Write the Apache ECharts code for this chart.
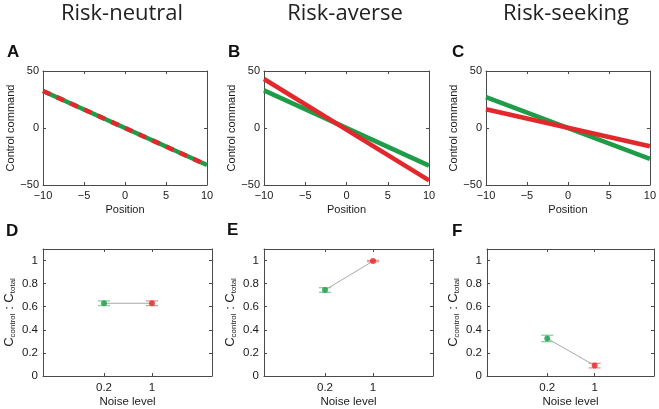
<!DOCTYPE html>
<html>
<head>
<meta charset="utf-8">
<script src="https://cdn.jsdelivr.net/npm/echarts@6/dist/echarts.min.js"></script>
<style>
html, body { margin: 0; padding: 0; background: #fff; }
#chart { width: 659px; height: 409px; }
</style>
</head>
<body>
<div id="chart"></div>
<script>
// column titles and panel letters
const panelTitles = ['Risk-neutral', 'Risk-averse', 'Risk-seeking'];
const panelLetters = ['A', 'B', 'C', 'D', 'E', 'F'];

// top row: control command vs position (end points of each line)
const positions = [-10, 10];
const greenCommand = [[32.5, -32.5], [33, -33], [27, -27]];
const redCommand = [[32.5, -32.5], [43, -46], [16.5, -16]];

// bottom row: Ccontrol : Ctotal at two noise levels (green = 0.2, red = 1)
const noiseLevels = ['0.2', '1'];
const ratioMean = [[0.63, 0.63], [0.745, 0.995], [0.325, 0.09]];
const ratioErr = [[0.02, 0.02], [0.02, 0.006], [0.028, 0.02]];
const ratioTicks = [0, 0.2, 0.4, 0.6, 0.8, 1];

const GREEN = '#1e9c48';
const RED = '#e2282c';
const GREEN_LIGHT = '#86d19e';
const RED_LIGHT = '#f09595';
const AXIS = '#4a4a4a';
const FONT = '"Liberation Sans", Arial, sans-serif';

const chart = echarts.init(document.getElementById('chart'));

const grids = [
    { left: 43, top: 71, width: 164, height: 114 },
    { left: 264, top: 71, width: 165, height: 114 },
    { left: 486, top: 71, width: 165, height: 114 },
    { left: 43, top: 249, width: 169, height: 128 },
    { left: 264, top: 249, width: 169, height: 128 },
    { left: 487, top: 249, width: 167, height: 127 }
];

const tickStyle = { inside: true, length: 3, lineStyle: { color: AXIS } };
const lineStyleAxis = { show: true, onZero: false, lineStyle: { color: AXIS, width: 1 } };
const labelStyle = { color: '#1a1a1a', fontSize: 11, fontFamily: FONT };

const xAxis = [];
const yAxis = [];
const series = [];

grids.forEach((g, i) => {
    const top = i < 3;
    if (top) {
        const xBase = { gridIndex: i, type: 'value', min: -10, max: 10, interval: 5,
            axisLine: lineStyleAxis, splitLine: { show: false }, axisTick: tickStyle };
        xAxis.push(Object.assign({}, xBase, {
            position: 'bottom', name: 'Position', nameLocation: 'middle', nameGap: 19,
            nameTextStyle: labelStyle,
            axisLabel: Object.assign({ margin: 5, formatter: v => String(v).replace('-', '\u2212') }, labelStyle)
        }));
        xAxis.push(Object.assign({}, xBase, { position: 'top', axisLabel: { show: false } }));
        const yBase = { gridIndex: i, type: 'value', min: -50, max: 50, interval: 50,
            axisLine: lineStyleAxis, splitLine: { show: false }, axisTick: tickStyle };
        yAxis.push(Object.assign({}, yBase, {
            position: 'left', name: 'Control command', nameLocation: 'middle', nameGap: 22,
            nameTextStyle: labelStyle,
            axisLabel: Object.assign({ margin: 4, formatter: v => String(v).replace('-', '\u2212') }, labelStyle)
        }));
        yAxis.push(Object.assign({}, yBase, { position: 'right', axisLabel: { show: false } }));
    } else {
        const xBase = { gridIndex: i, type: 'value', min: -1.27, max: 2.25,
            axisLine: lineStyleAxis, splitLine: { show: false },
            axisTick: Object.assign({ customValues: [0, 1] }, tickStyle) };
        xAxis.push(Object.assign({}, xBase, {
            position: 'bottom', name: 'Noise level', nameLocation: 'middle', nameGap: 20,
            nameTextStyle: { color: '#1a1a1a', fontSize: 11.5, fontFamily: FONT },
            axisLabel: Object.assign({ margin: 6, customValues: [0, 1], formatter: v => noiseLevels[Math.round(v)] },
                labelStyle, { fontSize: 11.5 })
        }));
        xAxis.push(Object.assign({}, xBase, { position: 'top', axisLabel: { show: false } }));
        const yBase = { gridIndex: i, type: 'value', min: 0, max: 1.1,
            axisLine: lineStyleAxis, splitLine: { show: false },
            axisTick: Object.assign({ customValues: ratioTicks }, tickStyle) };
        yAxis.push(Object.assign({}, yBase, {
            position: 'left', name: '{c|C}{s|control}{c| : C}{s|total}', nameLocation: 'middle', nameGap: 26,
            nameTextStyle: {
                color: '#1a1a1a', fontFamily: FONT,
                rich: {
                    c: { fontSize: 13, fontFamily: FONT, color: '#1a1a1a', lineHeight: 16 },
                    s: { fontSize: 8, fontFamily: FONT, color: '#1a1a1a', lineHeight: 16, verticalAlign: 'bottom', padding: [6, 0, 0, 0] }
                }
            },
            axisLabel: Object.assign({ margin: 5, customValues: ratioTicks }, labelStyle, { fontSize: 11.5 })
        }));
        yAxis.push(Object.assign({}, yBase, { position: 'right', axisLabel: { show: false } }));
    }
});

// top row lines
for (let p = 0; p < 3; p++) {
    const ax = 2 * p;
    series.push({
        type: 'line', xAxisIndex: ax, yAxisIndex: ax, symbol: 'none', silent: true,
        data: positions.map((x, k) => [x, greenCommand[p][k]]),
        lineStyle: { color: GREEN, width: 4.5 }, z: 2
    });
    series.push({
        type: 'line', xAxisIndex: ax, yAxisIndex: ax, symbol: 'none', silent: true,
        data: positions.map((x, k) => [x, redCommand[p][k]]),
        lineStyle: { color: RED, width: 4.5, type: p === 0 ? [8, 7] : 'solid' }, z: 3
    });
}

// bottom row: connector, error bars, dots
const dotColors = [GREEN, RED];
const barColors = [GREEN_LIGHT, RED_LIGHT];
for (let p = 0; p < 3; p++) {
    const ax = 2 * (p + 3);
    series.push({
        type: 'line', xAxisIndex: ax, yAxisIndex: ax, symbol: 'none', silent: true,
        data: noiseLevels.map((n, k) => [k, ratioMean[p][k]]),
        lineStyle: { color: '#a8a8a8', width: 1 }, z: 2
    });
    series.push({
        type: 'custom', xAxisIndex: ax, yAxisIndex: ax, silent: true, z: 3,
        data: noiseLevels.map((n, k) => [k, ratioMean[p][k], ratioErr[p][k]]),
        renderItem: (params, api) => {
            const x = api.value(0), m = api.value(1), e = api.value(2);
            const hi = api.coord([x, m + e]);
            const lo = api.coord([x, m - e]);
            const c = barColors[params.dataIndex];
            const hw = 6;
            const st = { stroke: c, lineWidth: 1.3 };
            return {
                type: 'group', children: [
                    { type: 'line', shape: { x1: hi[0], y1: hi[1], x2: lo[0], y2: lo[1] }, style: st },
                    { type: 'line', shape: { x1: hi[0] - hw, y1: hi[1], x2: hi[0] + hw, y2: hi[1] }, style: st },
                    { type: 'line', shape: { x1: lo[0] - hw, y1: lo[1], x2: lo[0] + hw, y2: lo[1] }, style: st }
                ]
            };
        }
    });
    series.push({
        type: 'scatter', xAxisIndex: ax, yAxisIndex: ax, silent: true, z: 4,
        symbolSize: 6,
        data: noiseLevels.map((n, k) => ({ value: [k, ratioMean[p][k]], itemStyle: { color: dotColors[k] } }))
    });
}

const titleCenters = [122, 345, 566];
const letterPos = [[7, 44], [228, 44], [452, 44], [6, 223], [227, 222], [452, 223]];
const graphic = [];
panelTitles.forEach((t, i) => {
    graphic.push({
        type: 'text', x: titleCenters[i], y: 14,
        style: { text: t, font: '22px "Open Sans", sans-serif', fill: '#222',
            textAlign: 'center', textVerticalAlign: 'middle' }
    });
});
panelLetters.forEach((t, i) => {
    graphic.push({
        type: 'text', left: letterPos[i][0], top: letterPos[i][1],
        style: { text: t, font: 'bold 17px "Liberation Sans", Arial, sans-serif', fill: '#111' }
    });
});

chart.setOption({
    animation: false,
    grid: grids,
    xAxis: xAxis,
    yAxis: yAxis,
    series: series,
    graphic: graphic
});
</script>
</body>
</html>
